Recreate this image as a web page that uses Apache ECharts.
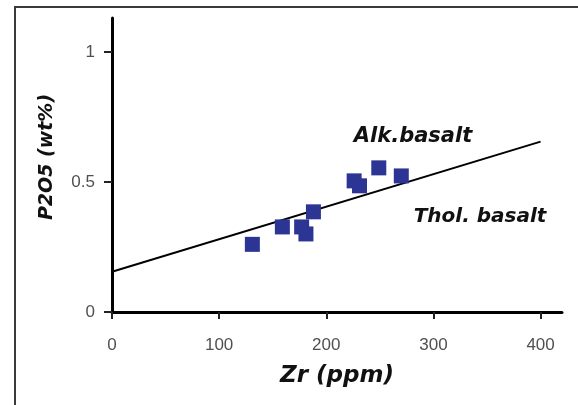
<!DOCTYPE html>
<html>
<head>
<meta charset="utf-8">
<style>
  html, body { margin: 0; padding: 0; background: #fff; }
  #chart { width: 578px; height: 405px; }
</style>
<script src="https://cdn.jsdelivr.net/npm/echarts@6/dist/echarts.min.js"></script>
</head>
<body>
<div id="chart"></div>
<script>
// Zr (ppm) vs P2O5 (wt%) samples
const zr = [131, 159, 177, 181, 188, 226, 231, 249, 270]
const p2o5 = [0.26, 0.327, 0.327, 0.30, 0.385, 0.504, 0.485, 0.554, 0.523]

// alkaline / tholeiitic dividing line
const divX = [0, 400]
const divY = [0.155, 0.655]

const xTicks = [0, 100, 200, 300, 400]
const yTicks = [0, 0.5, 1]

const font = 'DejaVu Sans'
const chart = echarts.init(document.getElementById('chart'))

chart.setOption({
  backgroundColor: '#fff',
  animation: false,
  grid: { left: 112, right: 16, top: 18, bottom: 93 },
  xAxis: {
    type: 'value',
    min: 0,
    max: 420,
    name: 'Zr (ppm)',
    nameLocation: 'middle',
    nameGap: 53,
    nameTextStyle: { fontFamily: font, fontSize: 23, fontWeight: 'bold', fontStyle: 'italic', color: '#111' },
    splitLine: { show: false },
    axisLine: { onZero: false, lineStyle: { color: '#000', width: 3 } },
    axisTick: { customValues: xTicks, length: 7, lineStyle: { color: '#222', width: 2 } },
    axisLabel: { customValues: xTicks, margin: 25, fontFamily: 'Liberation Sans', fontSize: 17, color: '#505050' }
  },
  yAxis: {
    type: 'value',
    min: 0,
    max: 1.13,
    splitLine: { show: false },
    axisLine: { onZero: false, lineStyle: { color: '#000', width: 3 } },
    axisTick: { customValues: yTicks, length: 8, lineStyle: { color: '#222', width: 2 } },
    axisLabel: { customValues: yTicks, margin: 17, fontFamily: 'Liberation Sans', fontSize: 17, color: '#505050' }
  },
  graphic: [
    {
      type: 'polyline',
      shape: { points: [[15, 405], [15, 7], [578, 7]] },
      style: { stroke: '#3a3a3a', lineWidth: 2, fill: null }
    },
    {
      type: 'text',
      x: 47, y: 157, rotation: Math.PI / 2,
      style: { text: 'P2O5 (wt%)', fontFamily: font, fontSize: 19, fontWeight: 'bold', fontStyle: 'italic', fill: '#111', align: 'center', verticalAlign: 'middle' }
    },
    {
      type: 'text',
      x: 413, y: 137,
      style: { text: 'Alk.basalt', fontFamily: font, fontSize: 21, fontWeight: 'bold', fontStyle: 'italic', fill: '#111', align: 'center', verticalAlign: 'middle' }
    },
    {
      type: 'text',
      x: 480, y: 217,
      style: { text: 'Thol. basalt', fontFamily: font, fontSize: 20, fontWeight: 'bold', fontStyle: 'italic', fill: '#111', align: 'center', verticalAlign: 'middle' }
    }
  ],
  series: [
    {
      type: 'line',
      data: divX.map((x, i) => [x, divY[i]]),
      symbol: 'none',
      lineStyle: { color: '#000', width: 2 },
      z: 1
    },
    {
      type: 'scatter',
      data: zr.map((x, i) => [x, p2o5[i]]),
      symbol: 'rect',
      symbolSize: 15,
      itemStyle: { color: '#2c3593', opacity: 1 },
      z: 2
    }
  ]
})
</script>
</body>
</html>
